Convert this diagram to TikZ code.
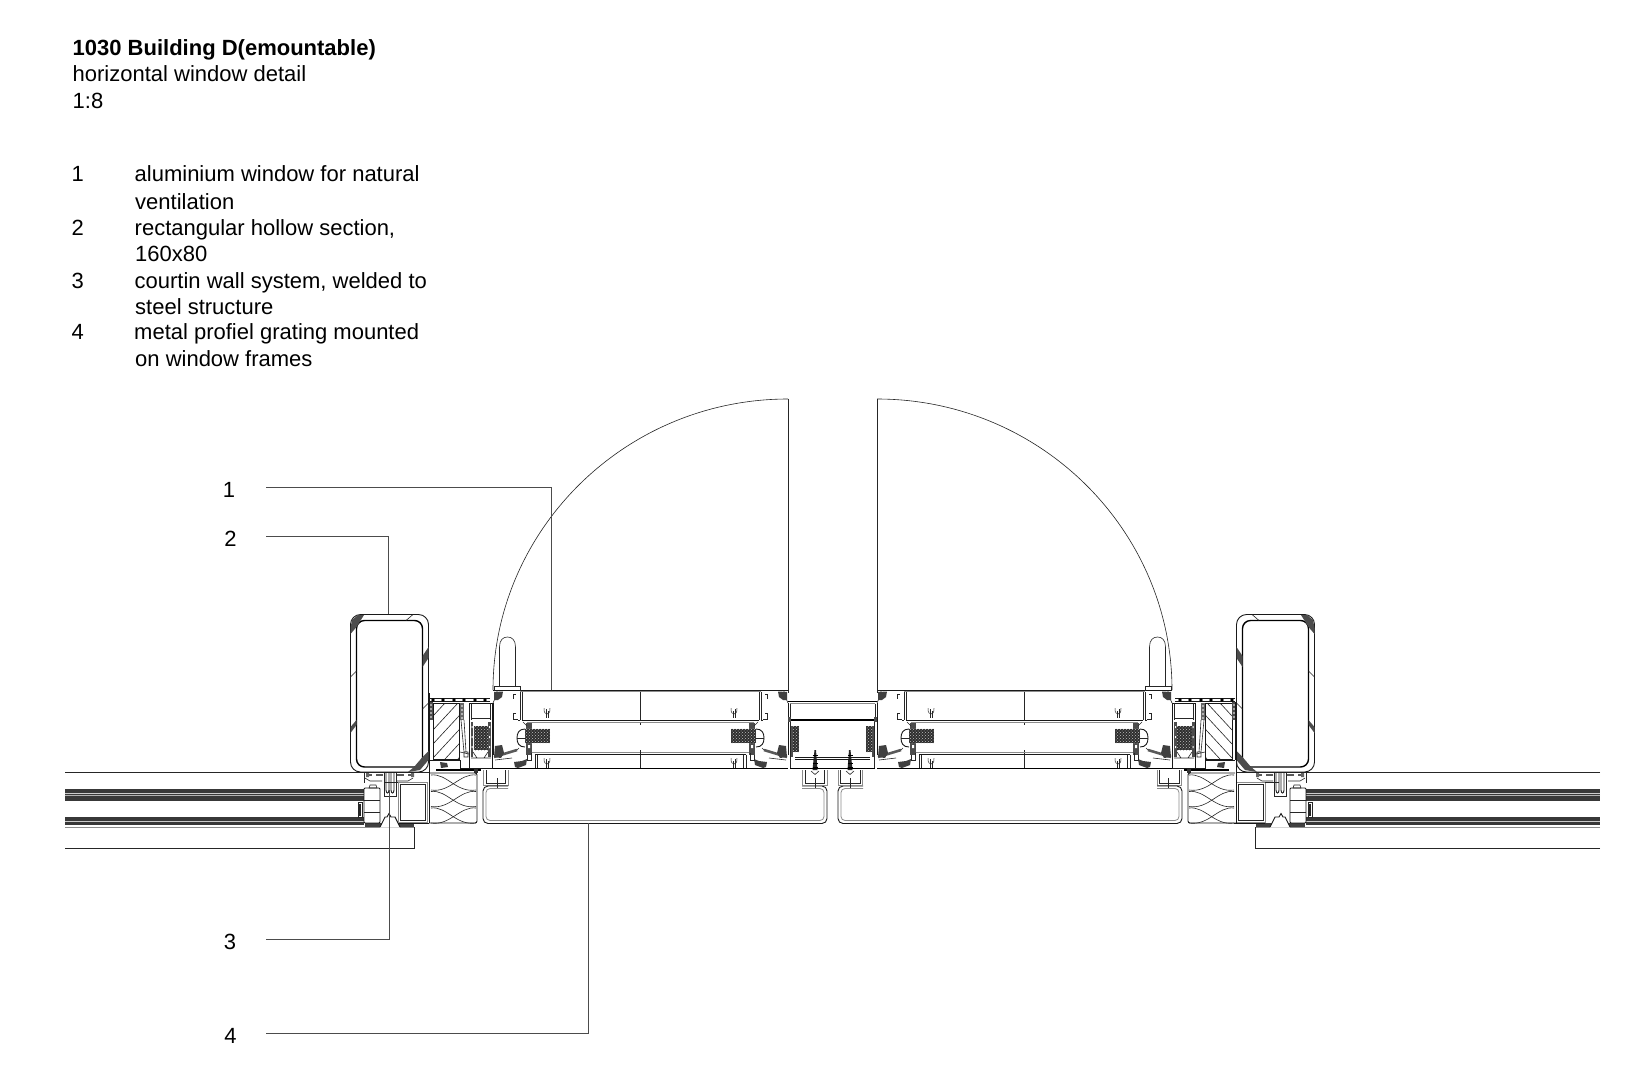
\documentclass[tikz,border=0pt]{standalone}
\usepackage{fontspec}
\setmainfont{Liberation Sans}
\usetikzlibrary{patterns}
\tikzset{
  thinl/.style={line width=0.6pt,draw=black!85},
  medl/.style={line width=0.9pt,draw=black!90},
  heavy/.style={line width=1.4pt,draw=black},
  grayl/.style={line width=0.8pt,draw=black!45},
  leader/.style={line width=0.7pt,draw=black!70},
  txt/.style={anchor=base west,inner sep=0pt,font=\fontsize{22}{24}\selectfont},
  txtb/.style={anchor=base west,inner sep=0pt,font=\fontsize{22}{24}\selectfont\bfseries}
}
% dark dithered gasket
\newcommand{\MeshBox}[4]{%
  \fill[black!82] (#1,#2) rectangle (#3,#4);
  \fill[pattern=crosshatch dots,pattern color=black!25] (#1,#2) rectangle (#3,#4);
}
% small clip glyph
\newcommand{\ClipGlyph}[2]{%
  \draw[thinl,line width=0.5pt] (#1-3,#2-5) .. controls (#1-3.5,#2) and (#1-1,#2+1) .. (#1,#2+1) .. controls (#1+1,#2+1) and (#1+3.5,#2) .. (#1+3,#2-5);
  \draw[thinl,line width=0.5pt] (#1-1,#2-4) -- (#1-1,#2+5) (#1+1,#2-2) -- (#1+1,#2+5);
}
% left half of one window, x from 493 to 640.5
\newcommand{\WinHalf}{%
  \draw[medl] (493,690) -- (640.5,690);
  \draw[grayl] (520,691.5) -- (640.5,691.5);
  \draw[thinl] (520,691.5) -- (520,720);
  \draw[thinl] (522,691.5) -- (522,720);
  \draw[medl] (522,720) -- (640.5,720);
  \draw[grayl] (527,722.5) -- (640.5,722.5);
  \draw[thinl] (640.5,691.5) -- (640.5,720);
  \draw[thinl] (640.5,722.5) -- (640.5,725) (640.5,750) -- (640.5,754) (640.5,754.5) -- (640.5,768);
  \draw[grayl] (531,752.7) -- (640.5,752.7);
  \draw[medl] (535,754.5) -- (640.5,754.5);
  \draw[thinl] (535,754.5) -- (535,768) (537.5,754.5) -- (537.5,768);
  \draw[heavy] (493,768.5) -- (640.5,768.5);
  \ClipGlyph{547}{713}
  \ClipGlyph{547}{763}
  % frame body
  \draw[medl] (493,703) -- (493,755);
  \draw[thinl] (497,690) -- (497,694) -- (493,703);
  \draw[thinl] (516,694) -- (513.5,694) -- (513.5,699) (516,713) -- (513.5,713) -- (513.5,719) -- (518,719);
  \draw[thinl] (518,720) -- (520,720);
  % sealing blot top
  \fill[black!75] (494,692) -- (503,691.5) -- (502,697) -- (498,700) -- (494,700) -- cycle;
  % sash strip
  \fill[black!70] (526,723) rectangle (532,755);
  \fill[white] (528,732) rectangle (530,735) (528,745) rectangle (530,748);
  \draw[thinl] (523,722) -- (527,726);
  % mesh gasket
  \MeshBox{525}{728.5}{550}{743}
  % rounded glazing bead
  \draw[medl] (525,729) .. controls (519,729) and (517,733) .. (517,738) .. controls (517,743) and (519,747) .. (525,747);
  \draw[thinl] (517,738) -- (525,738);
  % sloped strip
  \draw[line width=2.6pt,black!65] (494,757) -- (517,750);
  \draw[thinl] (517,750) -- (519,748);
  % blots
  \fill[black!75] (495,746) -- (502,745) -- (504,753) -- (501,758) -- (494,757) -- cycle;
  \fill[black!75] (514,762) -- (522,761) -- (527,759) -- (526,765) -- (518,768) -- (515,767) -- cycle;
  \draw[thinl] (527,755) -- (527,760) -- (531,760) -- (531,753);
  \draw[thinl] (495,760) -- (512,758);
}
% half of the whole bay, left of the axis x=832.5
\newcommand{\BayHalf}{%
  % hollow section
  \draw[medl,rounded corners=10pt] (350.5,614.5) rectangle (428.5,772);
  \draw[heavy,rounded corners=8pt] (356.5,620.5) rectangle (422.5,767);
  \fill[black!70] (350.5,628) -- (352,620) -- (358,615) -- (364,615) -- (356.5,627) -- (350.5,634) -- cycle;
  \fill[black!70] (422.5,656) -- (428.5,647) -- (428.5,658) -- (422.5,667) -- cycle;
  \fill[black!70] (350.5,727) -- (356.5,720) -- (356.5,725) -- (350.5,733) -- cycle;
  \fill[black!70] (422.5,757) -- (428.5,751) -- (428.5,760) -- (420,770) -- (408,772) -- (414,767) -- cycle;
  \draw[thinl] (406,620.5) -- (413,614.5) (350.5,677) -- (356.5,671) (422.5,709) -- (428.5,703);
  % wall line behind
  \draw[medl] (429,693) -- (429,823);
  % dotted bar
  \draw[medl] (430,698.5) -- (490,698.5) (430,701.5) -- (490,701.5);
  \foreach \i in {433,443,454,464,475,485}{\fill[black] (\i,700) circle (1.9pt);}
  % hatched wood
  \begin{scope}
    \clip (433,703) rectangle (459.5,759);
    \foreach \i in {0,1,...,8}{\draw[thinl] (433,716+\i*14) -- (470,676+\i*14);}
  \end{scope}
  \draw[medl] (433,703) rectangle (459.5,759);
  % gaskets beside wood
  \fill[black!70] (429.5,702) rectangle (433,720);
  \foreach \j in {705,709,713,717}{\fill[white] (431,\j) circle (0.9pt);}
  \fill[black!60] (460,703) rectangle (464,720);
  \foreach \j in {706,710,714,718}{\fill[white] (462,\j) circle (0.9pt);}
  \draw[thinl] (461,720) -- (464,752) (464,720) -- (466,752) (464,752) rectangle (468,757);
  \draw[medl] (429.5,702) -- (429.5,760);
  % profile under wood
  \draw[medl] (430,760.5) -- (460,760.5) -- (460,768.5) -- (470,768.5);
  \draw[heavy] (436,770) -- (481,770);
  \fill[black!75] (440,762) -- (447,763) -- (448,767) -- (441,768) -- cycle;
  \draw[thinl] (460,752) -- (469,754);
  \fill[black!80] (474,769) rectangle (478,773);
  % thermal block
  \draw[medl] (469.5,703) rectangle (492.5,768);
  \draw[thinl] (471,718) -- (491,718);
  \fill[black!70] (470.5,722) rectangle (473,757);
  \fill[black!70] (488,722) rectangle (491,757);
  \fill[white] (471.5,726) rectangle (472.5,728) (471.5,736) rectangle (472.5,738) (471.5,746) rectangle (472.5,748);
  \fill[white] (489,726) rectangle (490,728) (489,736) rectangle (490,738) (489,746) rectangle (490,748);
  \MeshBox{473.5}{726}{488}{750}
  \draw[thinl] (473,752) -- (477,758) (488,752) -- (484,758) (471,758) -- (491,758);
  \draw[thinl] (471.5,703) -- (471.5,720) (490.5,703) -- (490.5,720);
  % insulation
  \draw[medl,rounded corners=2pt] (430,773) -- (477,773) -- (477,823) -- (429,823);
  \foreach \k in {0,1,2}{
    \draw[thinl] (431,775+\k*16.5) .. controls (447,773+\k*16.5) and (456,793+\k*16.5) .. (476,790+\k*16.5);
    \draw[thinl] (431,790+\k*16.5) .. controls (450,793+\k*16.5) and (460,773+\k*16.5) .. (476,775+\k*16.5);
  }
  \draw[heavy] (443,770.5) -- (456,770.5);
  % bracket and grating
  \draw[black!45,line width=0.9pt] (483.5,770) -- (483.5,785.5) -- (508,785.5) -- (508,770);
  \draw[thinl] (486,770) -- (486,783) -- (505.5,783) -- (505.5,770);
  \draw[medl,rounded corners=5pt] (508,786) -- (483,786) -- (483,823.5) -- (827,823.5) -- (827,786) -- (802,786);
  \draw[grayl,rounded corners=4pt] (508,788.5) -- (486,788.5) -- (486,820.5) -- (824,820.5) -- (824,788.5) -- (802,788.5);
  \draw[black!45,line width=0.9pt] (802.5,770) -- (802.5,785.5) -- (827,785.5) -- (827,770);
  \draw[thinl] (805,770) -- (805,783) -- (824.5,783) -- (824.5,770);
  \draw[thinl] (497,778) -- (497,788) (815,778) -- (815,788);
  % screw
  \fill[black!85] (814.5,750) -- (816,750) -- (817.5,770) -- (812.5,770) -- cycle;
  \foreach \j in {755,759,763,767}{\draw[black,line width=0.8pt] (812.5,\j) -- (817.5,\j);}
  \draw[thinl] (811,771) -- (815,774.5) -- (819,771);
  % window
  \WinHalf
  \begin{scope}[shift={(1281,0)},xscale=-1]
    \WinHalf
  \end{scope}
  % frame line to axis
  \draw[heavy] (790,768.5) -- (832.5,768.5);
  % leaf
  \draw[thinl] (788,399) -- (788,693);
  \draw[thinl] (788,399) .. controls (625,399) and (493,530) .. (493,690);
  % handle
  \draw[thinl] (499.5,686) -- (499.5,647) .. controls (499.5,640) and (503,637) .. (507.5,637) .. controls (512,637) and (515.5,640) .. (515.5,647) -- (515.5,686);
  \draw[thinl] (494,691) -- (494,686) -- (520,686) -- (520,691);
  % centre box
  \draw[heavy] (788,701.5) -- (832.5,701.5);
  \draw[grayl] (790,703.5) -- (832.5,703.5);
  \draw[thinl] (790,703.5) -- (790,719);
  \draw[heavy] (790,720) -- (832.5,720);
  \fill[black!70] (790,726) rectangle (793,757);
  \MeshBox{793}{726}{799}{752}
  \draw[thinl] (790.5,720) -- (790.5,768);
  \draw[medl] (795,757) -- (832.5,757) (795,759.5) -- (832.5,759.5);
  \fill[black!70] (788,717) rectangle (791,722);
}
% glazing on one side: band end, bottom line end
\newcommand{\Glaze}[2]{%
  \draw[thinl] (65,772.5) -- (429,772.5);
  \fill[black!78] (65,788.5) rectangle (#1,801);
  \draw[white!80!black,line width=0.7pt] (65,793) -- (#1,793);
  \draw[white!70!black,line width=0.5pt] (65,795.5) -- (#1,795.5);
  \fill[black!78] (65,817) rectangle (#1,825);
  \draw[white!80!black,line width=0.6pt] (65,821.5) -- (#1,821.5);
  \draw[grayl] (65,827.5) -- (#1,827.5);
  \draw[thinl] (65,848) -- (#2,848) -- (#2,827);
}
% curtain wall transom, drawn on the left at x 364..414
\newcommand{\Curtain}{%
  \draw[grayl] (414,827.5) -- (364,827.5);
  \fill[black!75] (365,823) rectangle (414,827);
  \fill[white] (380,827.5) -- (385,817) -- (395,817) -- (400,827.5) -- cycle;
  \draw[medl] (380,827) -- (385,817) -- (387,817) -- (389,813.5) -- (391,817) -- (395,817) -- (400,827);
  % top clips
  \draw[thinl] (364,772.5) -- (364,783);
  \draw[line width=1.1pt,black!65] (366,775) -- (372,775) (376,775) -- (383,775) (397,775) -- (404,775) (408,775) -- (414,775);
  \draw[thinl] (365,778) -- (370,781) -- (382,781) (397,781) -- (408,781) -- (413,778);
  \fill[black!60] (366,773) rectangle (369,777) (411,773) rectangle (414,777);
  % central T
  \draw[thinl] (384,773) -- (384,796) -- (396,796) -- (396,773);
  \draw[medl] (386,773) -- (386,790) .. controls (386,794) and (389,794) .. (389,790) -- (389,773);
  \draw[medl] (391,773) -- (391,790) .. controls (391,794) and (394,794) .. (394,790) -- (394,773);
  % glass edge block
  \draw[medl,rounded corners=1pt] (364,788) -- (380,788) -- (380,823) -- (364,823) -- cycle;
  \draw[thinl] (364,800) -- (380,800) (364,812) -- (380,812);
  \draw[thinl] (370,785) -- (376,785) -- (377,788) -- (369,788) -- cycle;
  \draw[thinl] (358,802) rectangle (362,817) (359.5,804) rectangle (360.5,815);
}
% steel box beside the transom
\newcommand{\SteelBox}{%
  \draw[grayl] (398,782) rectangle (427,822);
  \draw[thinl] (400,784) rectangle (425,820);
  \draw[thinl] (398,782) -- (384,782);
  \draw[medl] (398,823) -- (429,823);
}
\begin{document}
\begin{tikzpicture}[x=1pt,y=-1pt]
  \useasboundingbox (0,0) rectangle (1652,1082);
  \fill[white] (0,0) rectangle (1652,1082);
  % texts
  \node[txtb] (t0) at (72.5,55) {1030 Building D(emountable)};
  \node[txt] (t1) at (72.5,81.5) {horizontal window detail};
  \node[txt] (t2) at (72.5,108) {1:8};
  \node[txt] (n1) at (71.5,181.5) {1};
  \node[txt] (d1) at (134.5,181.5) {aluminium window for natural};
  \node[txt] (d1b) at (135,209) {ventilation};
  \node[txt] (n2) at (71.5,235) {2};
  \node[txt] (d2) at (134.5,235) {rectangular hollow section,};
  \node[txt] (d2b) at (135,261) {160x80};
  \node[txt] (n3) at (71.5,288) {3};
  \node[txt] (d3) at (134.5,288) {courtin wall system, welded to};
  \node[txt] (d3b) at (135,314) {steel structure};
  \node[txt] (n4) at (71.5,339.5) {4};
  \node[txt] (d4) at (134,339.5) {metal profiel grating mounted};
  \node[txt] (d4b) at (135,366.5) {on window frames};
  % detail
  \Glaze{364}{414}
  \begin{scope}[shift={(1665,0)},xscale=-1]
    \Glaze{359}{409.3}
  \end{scope}
  \Curtain
  \begin{scope}[shift={(1670,0)},xscale=-1]
    \Curtain
  \end{scope}
  \SteelBox
  \begin{scope}[shift={(1663,0)},xscale=-1]
    \SteelBox
  \end{scope}
  \BayHalf
  \begin{scope}[shift={(1665,0)},xscale=-1]
    \BayHalf
  \end{scope}
  % leaders
  \node[txt,anchor=base] (l1) at (229,497.5) {1};
  \node[txt,anchor=base] (l2) at (230.5,546.5) {2};
  \node[txt,anchor=base] (l3) at (230,949) {3};
  \node[txt,anchor=base] (l4) at (230.5,1043.5) {4};
  \coordinate (a1) at (266,487.5); \coordinate (b1) at (551,690);
  \coordinate (a2) at (266,536);   \coordinate (b2) at (388,614);
  \coordinate (a3) at (266,939);   \coordinate (b3) at (389,790);
  \coordinate (a4) at (266,1033);  \coordinate (b4) at (588,823);
  \draw[leader] (a1) -| (b1);
  \draw[leader] (a2) -| (b2);
  \draw[leader] (a3) -| (b3);
  \draw[leader] (a4) -| (b4);
\end{tikzpicture}
\end{document}
